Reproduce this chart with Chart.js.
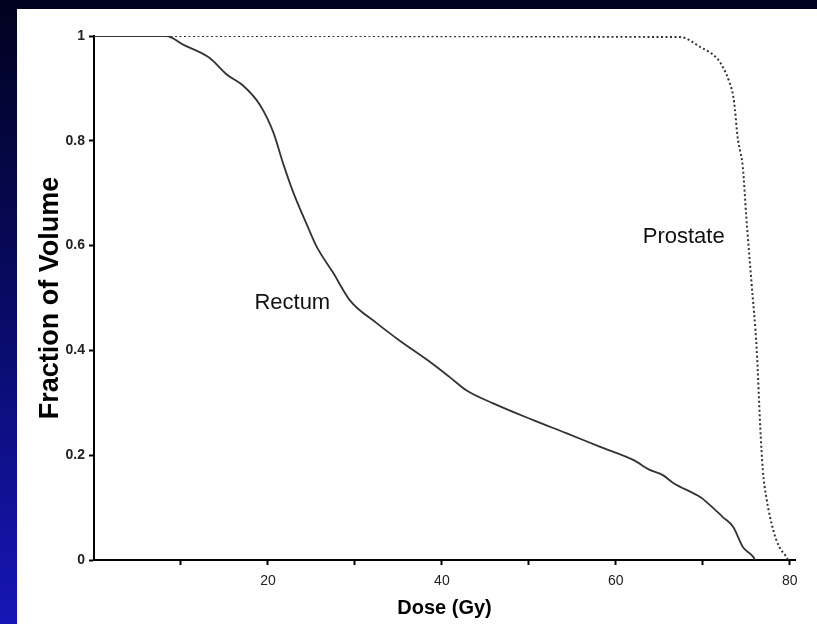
<!DOCTYPE html>
<html>
<head>
<meta charset="utf-8">
<script src="https://cdn.jsdelivr.net/npm/chart.js@4/dist/chart.umd.min.js"></script>
<style>
  html, body { margin: 0; padding: 0; }
  body {
    width: 817px; height: 624px; overflow: hidden; position: relative;
    background: linear-gradient(to bottom, #00021f 0%, #07095e 45%, #1616b6 100%);
  }
  #panel {
    position: absolute; left: 17px; top: 9px; width: 800px; height: 615px;
    background: #fff;
  }
</style>
</head>
<body>
<div id="panel"><canvas id="dvh" width="800" height="615"></canvas></div>
<script>
// dose-volume histogram, values
const rectumDose   = [0, 8.3, 10.3, 13.3, 15.3, 17.1, 19.1, 20.6, 21.8, 22.9, 24.5, 25.6, 27.5, 29.4, 32.5, 35.2, 38.3, 40.9, 42.8, 45.9, 50.5, 54.3, 58.2, 62.0, 63.9, 65.4, 66.6, 69.7, 70.4, 72.3, 73.5, 74.6, 75.8, 76.0];
const rectumVolume = [1, 1.0, 0.983, 0.958, 0.926, 0.906, 0.868, 0.817, 0.754, 0.702, 0.639, 0.598, 0.548, 0.496, 0.452, 0.418, 0.382, 0.349, 0.324, 0.299, 0.267, 0.242, 0.216, 0.191, 0.172, 0.162, 0.147, 0.120, 0.111, 0.082, 0.063, 0.025, 0.006, 0];

const prostateDose   = [0, 67.4, 69.7, 71.6, 72.3, 73.1, 73.5, 73.7, 74.0, 74.3, 74.6, 75.0, 75.6, 76.2, 76.6, 76.9, 77.3, 78.1, 78.8, 79.6, 79.8];
const prostateVolume = [1, 0.998, 0.979, 0.958, 0.941, 0.910, 0.885, 0.859, 0.807, 0.780, 0.750, 0.655, 0.529, 0.401, 0.255, 0.172, 0.120, 0.057, 0.025, 0.006, 0];

const doseTicks  = [10, 20, 30, 40, 50, 60, 70, 80];
const doseLabels = [20, 40, 60, 80];
const volumeTicks = [0, 0.2, 0.4, 0.6, 0.8, 1];

const curveNames = ['Rectum', 'Prostate'];

const FONT = "'Liberation Sans', Arial, sans-serif";
const toPoints = (xs, ys) => xs.map((x, i) => ({ x, y: ys[i] }));

// in-plot curve labels, anchored in data units
const nameAnchors = [{ x: 22.8, y: 0.49 }, { x: 67.8, y: 0.617 }];
const curveLabels = {
  id: 'curveLabels',
  afterDatasetsDraw(chart) {
    const { ctx, scales: { x, y } } = chart;
    ctx.save();
    ctx.font = '22px ' + FONT;
    ctx.fillStyle = '#111';
    ctx.textAlign = 'center';
    ctx.textBaseline = 'middle';
    curveNames.forEach((name, i) => {
      ctx.fillText(name, x.getPixelForValue(nameAnchors[i].x), y.getPixelForValue(nameAnchors[i].y));
    });
    ctx.restore();
  }
};

new Chart(document.getElementById('dvh').getContext('2d'), {
  type: 'line',
  data: {
    datasets: [{
      label: curveNames[0],
      data: toPoints(rectumDose, rectumVolume),
      borderColor: '#333',
      borderWidth: 1.8,
      pointRadius: 0,
      cubicInterpolationMode: 'monotone'
    }, {
      label: curveNames[1],
      data: toPoints(prostateDose, prostateVolume),
      borderColor: '#333',
      borderWidth: 2,
      borderDash: [2, 2.5],
      pointRadius: 0,
      cubicInterpolationMode: 'monotone'
    }]
  },
  options: {
    animation: false,
    responsive: false,
    layout: { padding: { left: 0, right: 22, top: 27, bottom: 0 } },
    plugins: { legend: { display: false }, tooltip: { enabled: false } },
    scales: {
      x: {
        type: 'linear',
        min: 0, max: 80.6,
        afterBuildTicks: s => { s.ticks = doseTicks.map(v => ({ value: v })); },
        afterFit: s => { s.height = 64; },
        border: { display: true, color: '#000', width: 2 },
        grid: { drawOnChartArea: false, drawTicks: true, tickLength: 5, tickColor: '#000', tickWidth: 2 },
        ticks: {
          autoSkip: false, maxRotation: 0, padding: 8,
          color: '#222', font: { family: FONT, size: 14 },
          callback: v => doseLabels.includes(v) ? String(v) : ''
        },
        title: {
          display: true, text: 'Dose (Gy)', color: '#000',
          font: { family: FONT, size: 20, weight: 'bold', lineHeight: 1.2 },
          padding: { top: 0, bottom: 4 }
        }
      },
      y: {
        min: 0, max: 1,
        afterBuildTicks: s => { s.ticks = volumeTicks.map(v => ({ value: v })); },
        afterFit: s => { s.width = 77; },
        border: { display: true, color: '#000', width: 2 },
        grid: { drawOnChartArea: false, drawTicks: true, tickLength: 5, tickColor: '#000', tickWidth: 2 },
        ticks: {
          padding: 4, color: '#222',
          font: { family: FONT, size: 14, weight: 'bold' },
          callback: v => String(Math.round(v * 10) / 10)
        },
        title: {
          display: true, text: 'Fraction of Volume', color: '#000',
          font: { family: FONT, size: 27, weight: 'bold', lineHeight: 1.2 },
          padding: { top: 17, bottom: 0 }
        }
      }
    }
  },
  plugins: [curveLabels]
});
</script>
</body>
</html>
